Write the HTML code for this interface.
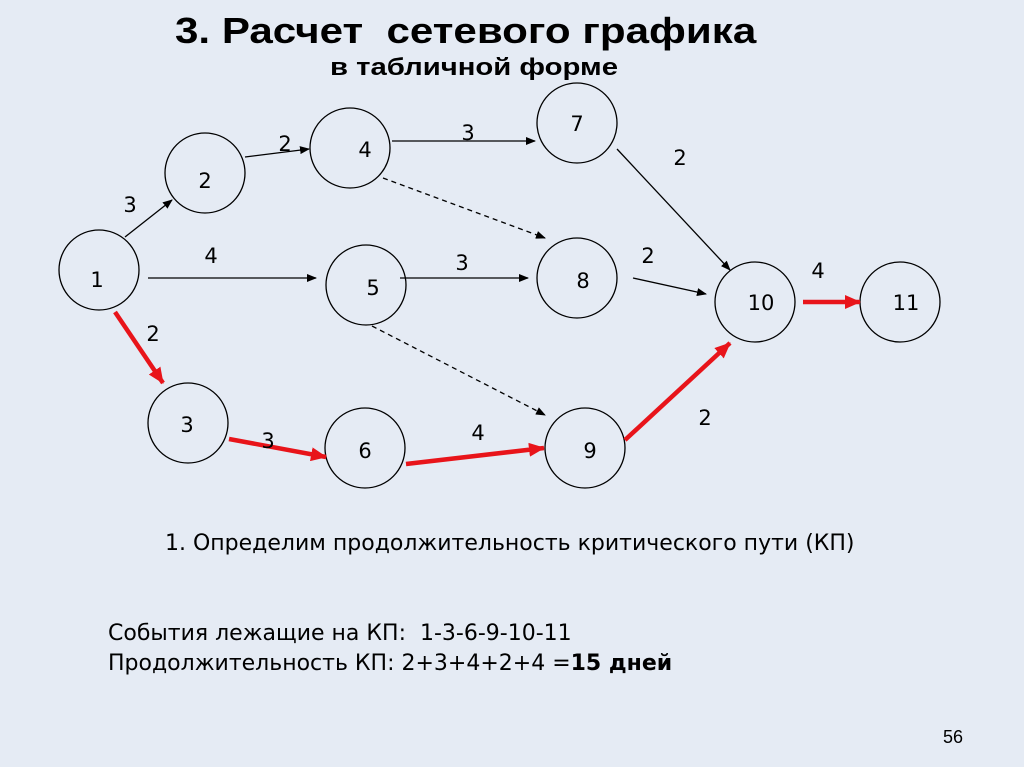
<!DOCTYPE html>
<html><head><meta charset="utf-8"><style>
html,body{margin:0;padding:0;}
body{width:1024px;height:767px;background:#e5ebf4;position:relative;overflow:hidden;font-family:"DejaVu Sans","Liberation Sans",sans-serif;}
.t{position:absolute;white-space:nowrap;color:#000;}
</style></head><body>
<div class="t" style="left:175px;top:10px;font:bold 36px 'Liberation Sans',sans-serif;transform:scaleX(1.17);transform-origin:0 0;">3. Расчет&nbsp; сетевого графика</div>
<div class="t" style="left:330px;top:54px;font:bold 24px 'Liberation Sans',sans-serif;transform:scaleX(1.22);transform-origin:0 0;">в табличной форме</div>
<svg width="1024" height="767" style="position:absolute;left:0;top:0" font-family="DejaVu Sans, sans-serif" font-size="21">
<defs>
<marker id="a" markerWidth="10" markerHeight="8" refX="9" refY="4" orient="auto" markerUnits="userSpaceOnUse"><path d="M0,0 L10,4 L0,8z" fill="#000"/></marker>
<marker id="r" markerWidth="16" markerHeight="14" refX="15" refY="7" orient="auto" markerUnits="userSpaceOnUse"><path d="M0,0 L16,7 L0,14z" fill="#e8141a"/></marker>
</defs>
<g fill="none" stroke="#000" stroke-width="1.3">
<circle cx="99" cy="270" r="40"/><circle cx="205" cy="173" r="40"/><circle cx="350" cy="148" r="40"/>
<circle cx="188" cy="423" r="40"/><circle cx="366" cy="285" r="40"/><circle cx="365" cy="448" r="40"/>
<circle cx="577" cy="123" r="40"/><circle cx="577" cy="278" r="40"/><circle cx="585" cy="448" r="40"/>
<circle cx="755" cy="302" r="40"/><circle cx="900" cy="302" r="40"/>
<line x1="125" y1="237" x2="172" y2="200" marker-end="url(#a)"/>
<line x1="245" y1="157" x2="309" y2="149" marker-end="url(#a)"/>
<line x1="392" y1="141" x2="535" y2="141" marker-end="url(#a)"/>
<line x1="383" y1="178" x2="545" y2="238" stroke-dasharray="5,4" marker-end="url(#a)"/>
<line x1="148" y1="278" x2="316" y2="278" marker-end="url(#a)"/>
<line x1="400" y1="278" x2="528" y2="278" marker-end="url(#a)"/>
<line x1="372" y1="326" x2="545" y2="415" stroke-dasharray="5,4" marker-end="url(#a)"/>
<line x1="617" y1="149" x2="730" y2="270" marker-end="url(#a)"/>
<line x1="633" y1="278" x2="706" y2="294" marker-end="url(#a)"/>
</g>
<g stroke="#e8141a" stroke-width="4.5">
<line x1="115" y1="312" x2="163" y2="383" marker-end="url(#r)"/>
<line x1="229" y1="439" x2="326" y2="457" marker-end="url(#r)"/>
<line x1="406" y1="464" x2="544" y2="448" marker-end="url(#r)"/>
<line x1="625" y1="440" x2="730" y2="343" marker-end="url(#r)"/>
<line x1="803" y1="302" x2="860" y2="302" marker-end="url(#r)"/>
</g>
<g fill="#000" text-anchor="middle">
<text x="97" y="287">1</text><text x="205" y="188">2</text><text x="365" y="157">4</text>
<text x="187" y="432">3</text><text x="373" y="295">5</text><text x="365" y="458">6</text>
<text x="577" y="131">7</text><text x="583" y="288">8</text><text x="590" y="458">9</text>
<text x="761" y="310">10</text><text x="906" y="310">11</text>
<text x="130" y="212">3</text><text x="285" y="151">2</text><text x="468" y="140">3</text>
<text x="680" y="165">2</text><text x="211" y="263">4</text><text x="462" y="270">3</text>
<text x="648" y="263">2</text><text x="818" y="278">4</text><text x="153" y="341">2</text>
<text x="268" y="448">3</text><text x="478" y="440">4</text><text x="705" y="425">2</text>
</g>
</svg>
<div class="t" style="left:165px;top:531px;font-size:22px;">1. Определим продолжительность критического пути (КП)</div>
<div class="t" style="left:108px;top:621px;font-size:22px;">События лежащие на КП:&nbsp; 1-3-6-9-10-11</div>
<div class="t" style="left:108px;top:651px;font-size:22px;">Продолжительность КП: 2+3+4+2+4 =<b>15 дней</b></div>
<div class="t" style="left:943px;top:727px;font:18px 'Liberation Sans',sans-serif;">56</div>
</body></html>
